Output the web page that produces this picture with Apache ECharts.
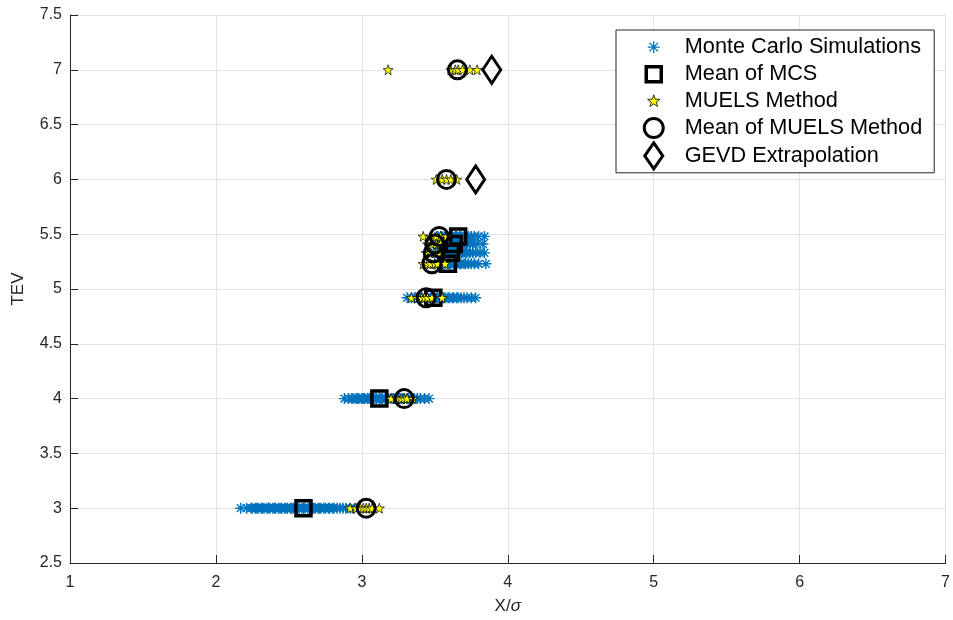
<!DOCTYPE html>
<html>
<head>
<meta charset="utf-8">
<script src="https://cdn.jsdelivr.net/npm/echarts@6/dist/echarts.min.js"></script>
<style>
  html, body { margin: 0; padding: 0; background: #fff; }
  #chart { width: 953px; height: 620px; }
</style>
</head>
<body>
<div id="chart"></div>
<script>
// TEV levels (y) at which the X/sigma estimates were collected
const tevLevels = [3, 4, 4.92, 5.23, 5.33, 5.41, 5.48, 6, 7];

// Monte Carlo simulation samples per TEV level
const mcs_300 = [2.17, 2.21, 2.24, 2.25, 2.27, 2.28, 2.29, 2.31, 2.32, 2.33, 2.35, 2.36, 2.37, 2.39, 2.40, 2.41,
                 2.43, 2.44, 2.45, 2.47, 2.48, 2.49, 2.51, 2.52, 2.53, 2.55, 2.56, 2.57, 2.59, 2.60, 2.61, 2.63,
                 2.64, 2.66, 2.67, 2.68, 2.70, 2.71, 2.72, 2.74, 2.75, 2.77, 2.78, 2.80, 2.81, 2.83, 2.85, 2.87,
                 2.89, 2.92, 2.95];
const mcs_400 = [2.88, 2.91, 2.93, 2.94, 2.96, 2.97, 2.98, 3.00, 3.01, 3.02, 3.04, 3.05, 3.06, 3.08, 3.09, 3.10,
                 3.12, 3.13, 3.14, 3.16, 3.17, 3.18, 3.20, 3.21, 3.22, 3.24, 3.25, 3.26, 3.28, 3.29, 3.31, 3.32,
                 3.34, 3.36, 3.38, 3.40, 3.43, 3.46];
const mcs_492 = [3.31, 3.34, 3.36, 3.37, 3.39, 3.40, 3.41, 3.43, 3.44, 3.45, 3.47, 3.48, 3.49, 3.51, 3.52, 3.53,
                 3.55, 3.56, 3.57, 3.59, 3.60, 3.62, 3.63, 3.65, 3.66, 3.68, 3.70, 3.72, 3.75, 3.78];
const mcs_523 = [3.50, 3.52, 3.53, 3.55, 3.56, 3.57, 3.59, 3.60, 3.61, 3.63, 3.64, 3.65, 3.67, 3.68, 3.70, 3.71,
                 3.73, 3.75, 3.77, 3.80, 3.85];
const mcs_533 = [3.50, 3.52, 3.54, 3.55, 3.57, 3.58, 3.59, 3.61, 3.62, 3.64, 3.65, 3.66, 3.68, 3.69, 3.71, 3.72,
                 3.74, 3.76, 3.78, 3.81, 3.84];
const mcs_541 = [3.51, 3.53, 3.54, 3.56, 3.57, 3.59, 3.60, 3.62, 3.63, 3.64, 3.66, 3.67, 3.69, 3.70, 3.72, 3.74,
                 3.76, 3.79, 3.83];
const mcs_548 = [3.52, 3.54, 3.55, 3.57, 3.58, 3.60, 3.61, 3.62, 3.64, 3.65, 3.67, 3.68, 3.70, 3.71, 3.73, 3.75,
                 3.77, 3.80, 3.84];

// Mean of the Monte Carlo samples, one per simulated level
const mcsMean = [2.60, 3.12, 3.49, 3.59, 3.61, 3.63, 3.66];

// MUELS method estimates per TEV level
const muels_300 = [2.92, 2.96, 2.99, 3.01, 3.03, 3.05, 3.07, 3.12];
const muels_400 = [3.20, 3.24, 3.27, 3.29, 3.31, 3.35];
const muels_492 = [3.34, 3.38, 3.41, 3.43, 3.45, 3.48, 3.55];
const muels_523 = [3.42, 3.45, 3.47, 3.50, 3.52, 3.57];
const muels_533 = [3.44, 3.47, 3.50, 3.53];
const muels_541 = [3.45, 3.48, 3.51, 3.54];
const muels_548 = [3.42, 3.47, 3.51, 3.54, 3.58];
const muels_600 = [3.51, 3.55, 3.58, 3.61, 3.65];
const muels_700 = [3.18, 3.61, 3.64, 3.66, 3.69, 3.74, 3.79];

// Mean of the MUELS estimates, one per level
const muelsMean = [3.03, 3.29, 3.44, 3.48, 3.49, 3.50, 3.53, 3.58, 3.655];

// GEVD extrapolation at the two highest levels
const gevdLevels = [6, 7];
const gevdX = [3.78, 3.89];

// Axis tick values
const xTicks = [1, 2, 3, 4, 5, 6, 7];
const yTicks = [2.5, 3, 3.5, 4, 4.5, 5, 5.5, 6, 6.5, 7, 7.5];

const mcsRows = [mcs_300, mcs_400, mcs_492, mcs_523, mcs_533, mcs_541, mcs_548];
const muelsRows = [muels_300, muels_400, muels_492, muels_523, muels_533, muels_541, muels_548, muels_600, muels_700];

function pairs(rows) {
  const out = [];
  rows.forEach((row, i) => row.forEach(x => out.push([x, tevLevels[i]])));
  return out;
}

const mcsData = pairs(mcsRows);
const mcsMeanData = mcsMean.map((x, i) => [x, tevLevels[i]]);
const muelsData = pairs(muelsRows);
const muelsMeanData = muelsMean.map((x, i) => [x, tevLevels[i]]);
const gevdData = gevdX.map((x, i) => [x, gevdLevels[i]]);

// Marker shapes used on the plot
const ASTERISK = 'path://M0,-10L0,10M-10,0L10,0M-7.07,-7.07L7.07,7.07M-7.07,7.07L7.07,-7.07';
const STAR = 'path://M0,-10L2.35,-3.24L9.51,-3.09L3.8,1.24L5.88,8.09L0,4L-5.88,8.09L-3.8,1.24L-9.51,-3.09L-2.35,-3.24Z';

// Legend keys: each path carries a fixed 30x27 frame (leading moveTo points)
// so the mark keeps its own size inside the legend slot
const FRAME = 'M-15,-13.5M15,13.5';
const KEY_ASTERISK = 'path://' + FRAME + 'M0,-6L0,6M-6,0L6,0M-4.24,-4.24L4.24,4.24M-4.24,4.24L4.24,-4.24';
const KEY_SQUARE = 'path://' + FRAME + 'M-7.5,-7.5L7.5,-7.5L7.5,7.5L-7.5,7.5Z';
const KEY_STAR = 'path://' + FRAME + 'M0,-6.5L1.53,-2.11L6.18,-2.01L2.47,0.81L3.82,5.26L0,2.6L-3.82,5.26L-2.47,0.81L-6.18,-2.01L-1.53,-2.11Z';
const KEY_CIRCLE = 'path://' + FRAME + 'M-9.5,0A9.5,9.5,0,1,1,9.5,0A9.5,9.5,0,1,1,-9.5,0Z';
const KEY_DIAMOND = 'path://' + FRAME + 'M0,-13L9,0L0,13L-9,0Z';

const FONT = '"Liberation Sans", Arial, Helvetica, sans-serif';
const AXIS_COLOR = '#262626';
const GRID_COLOR = '#e3e3e3';
const MCS_BLUE = '#0072BD';

const hollow = (w) => ({ color: 'transparent', borderColor: '#000', borderWidth: w, opacity: 1 });

const chart = echarts.init(document.getElementById('chart'), null, { renderer: 'canvas' });

chart.setOption({
  animation: false,
  backgroundColor: '#ffffff',
  textStyle: { fontFamily: FONT },
  grid: { left: 70, right: 5, top: 15, bottom: 57, containLabel: false },
  xAxis: {
    type: 'value',
    min: xTicks[0],
    max: xTicks[xTicks.length - 1],
    interval: 1,
    name: 'X/{i|σ}',
    nameLocation: 'middle',
    nameGap: 35,
    nameTextStyle: {
      color: AXIS_COLOR, fontSize: 17, fontFamily: FONT,
      rich: { i: { fontStyle: 'italic', fontSize: 17, color: AXIS_COLOR, fontFamily: FONT } }
    },
    axisLine: { show: true, onZero: false, lineStyle: { color: AXIS_COLOR, width: 1 } },
    axisTick: { show: true, inside: true, length: 8, lineStyle: { color: AXIS_COLOR } },
    axisLabel: { color: AXIS_COLOR, fontSize: 16, margin: 12, fontFamily: FONT },
    splitLine: { show: true, lineStyle: { color: GRID_COLOR, width: 1 } }
  },
  yAxis: {
    type: 'value',
    min: yTicks[0],
    max: yTicks[yTicks.length - 1],
    interval: 0.5,
    name: 'TEV',
    nameLocation: 'middle',
    nameGap: 43,
    nameTextStyle: { color: AXIS_COLOR, fontSize: 17, fontFamily: FONT },
    axisLine: { show: true, onZero: false, lineStyle: { color: AXIS_COLOR, width: 1 } },
    axisTick: { show: true, inside: true, length: 8, lineStyle: { color: AXIS_COLOR } },
    axisLabel: { color: AXIS_COLOR, fontSize: 16, margin: 8, fontFamily: FONT },
    splitLine: { show: true, lineStyle: { color: GRID_COLOR, width: 1 } }
  },
  legend: {
    orient: 'vertical',
    left: 616,
    top: 30,
    padding: [3, 12, 2, 21],
    itemGap: -2.2,
    itemWidth: 30,
    itemHeight: 27,
    backgroundColor: '#ffffff',
    borderColor: '#262626',
    borderWidth: 1,
    borderRadius: 0,
    textStyle: { color: '#000', fontSize: 21.7, lineHeight: 27, fontFamily: FONT, padding: [0, 0, 0, 11] },
    data: [
      { name: 'Monte Carlo Simulations', icon: KEY_ASTERISK,
        itemStyle: { color: 'transparent', borderColor: MCS_BLUE, borderWidth: 1.3, opacity: 1 } },
      { name: 'Mean of MCS', icon: KEY_SQUARE, itemStyle: hollow(3.5) },
      { name: 'MUELS Method', icon: KEY_STAR,
        itemStyle: { color: '#FFFF00', borderColor: '#000', borderWidth: 0.8, opacity: 1 } },
      { name: 'Mean of MUELS Method', icon: KEY_CIRCLE, itemStyle: hollow(3) },
      { name: 'GEVD Extrapolation', icon: KEY_DIAMOND, itemStyle: hollow(3) }
    ]
  },
  series: [
    {
      name: 'Monte Carlo Simulations',
      type: 'scatter',
      data: mcsData,
      symbol: ASTERISK,
      symbolSize: 11,
      itemStyle: { color: 'transparent', borderColor: MCS_BLUE, borderWidth: 1.4, opacity: 1 },
      z: 2
    },
    {
      name: 'Mean of MCS',
      type: 'scatter',
      data: mcsMeanData,
      symbol: 'rect',
      symbolSize: 15,
      itemStyle: hollow(3.5),
      z: 3
    },
    {
      name: 'MUELS Method',
      type: 'scatter',
      data: muelsData,
      symbol: STAR,
      symbolSize: 10,
      itemStyle: { color: '#FFFF00', borderColor: '#000', borderWidth: 0.7, opacity: 1 },
      z: 4
    },
    {
      name: 'Mean of MUELS Method',
      type: 'scatter',
      data: muelsMeanData,
      symbol: 'circle',
      symbolSize: 18,
      itemStyle: hollow(3),
      z: 5
    },
    {
      name: 'GEVD Extrapolation',
      type: 'scatter',
      data: gevdData,
      symbol: 'diamond',
      symbolSize: [18, 27],
      itemStyle: hollow(3),
      z: 6
    }
  ]
});
</script>
</body>
</html>
